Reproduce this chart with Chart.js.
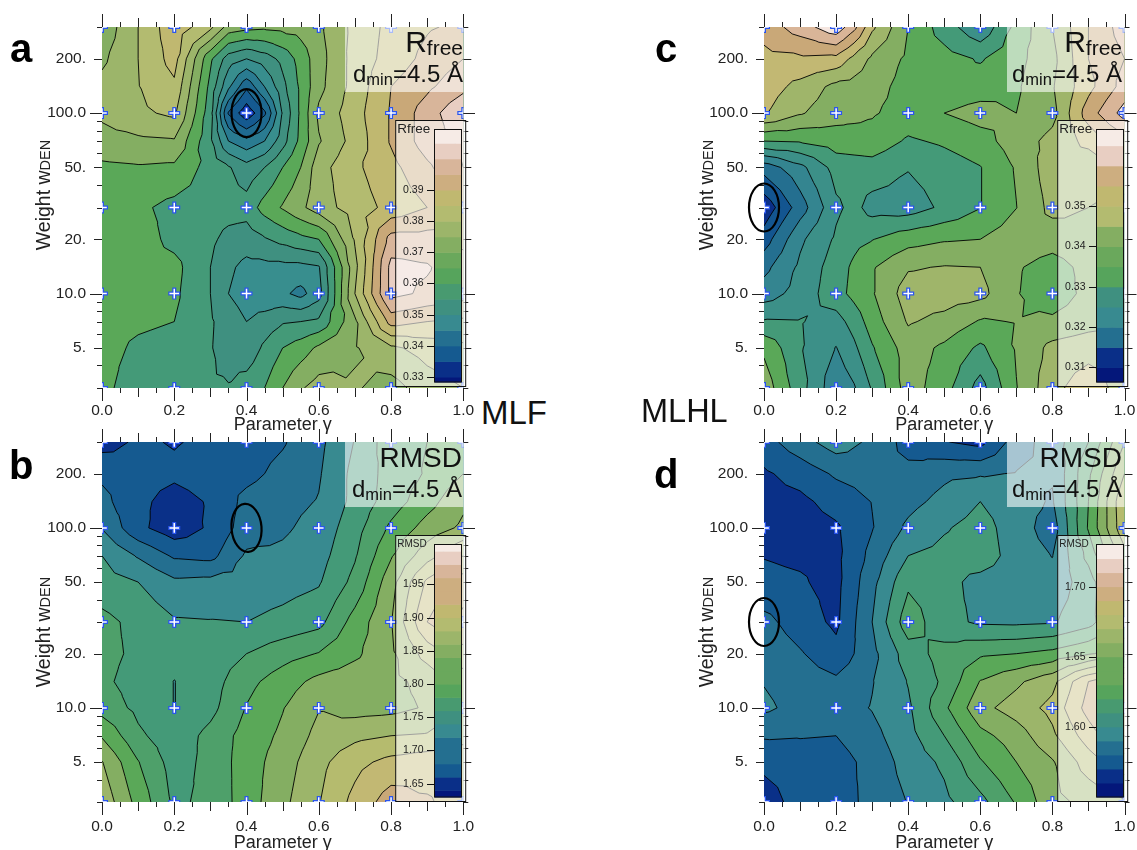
<!DOCTYPE html>
<html>
<head>
<meta charset="utf-8">
<title>Rfree and RMSD maps</title>
<script src="https://cdn.jsdelivr.net/npm/chart.js@4/dist/chart.umd.min.js"></script>
<style>
html, body { margin: 0; padding: 0; background: #fff; }
#page { position: relative; width: 1137px; height: 850px; overflow: hidden; font-family: "Liberation Sans", Arial, sans-serif; color: #111; }
canvas { position: absolute; }
.t { position: absolute; line-height: 1; white-space: nowrap; }
.letter { font-weight: bold; font-size: 40px; color: #000; }
.method { font-size: 33px; }
.right { text-align: right; width: 200px; }
.big { font-size: 30px; }
.big span { font-size: 21px; position: relative; top: 2.5px; }
.rmsd { font-size: 28px; }
.dmin { font-size: 24px; }
.dmin span { font-size: 16.5px; position: relative; top: 3px; }
.ylab { font-size: 19.5px; color: #222; transform: translate(-50%, -50%) rotate(-90deg); }
.ylab span { font-size: 14.5px; }
</style>
</head>
<body>
<div id="page">
<canvas id="pa" width="475" height="436" style="left:0;top:0"></canvas>
<canvas id="pb" width="475" height="439" style="left:0;top:415px"></canvas>
<canvas id="pc" width="475" height="436" style="left:662px;top:0"></canvas>
<canvas id="pd" width="475" height="439" style="left:662px;top:415px"></canvas>

<div class="t letter" style="left:10px;top:28px">a</div>
<div class="t letter" style="left:9px;top:445px">b</div>
<div class="t letter" style="left:655px;top:28px">c</div>
<div class="t letter" style="left:654px;top:454px">d</div>
<div class="t method" style="left:481px;top:396px">MLF</div>
<div class="t method" style="left:641px;top:395px;font-size:32.5px">MLHL</div>

<div class="t right big" style="left:263px;top:27px">R<span>free</span></div>
<div class="t right dmin" style="left:263px;top:62px">d<span>min</span>=4.5 Å</div>
<div class="t right big" style="left:922px;top:27px">R<span>free</span></div>
<div class="t right dmin" style="left:922px;top:62px">d<span>min</span>=4.5 Å</div>
<div class="t right rmsd" style="left:262px;top:444px">RMSD</div>
<div class="t right dmin" style="left:262px;top:477px">d<span>min</span>=4.5 Å</div>
<div class="t right rmsd" style="left:922px;top:444px">RMSD</div>
<div class="t right dmin" style="left:922px;top:477px">d<span>min</span>=4.5 Å</div>

<div class="t ylab" style="left:44px;top:195px">Weight w<span>DEN</span></div>
<div class="t ylab" style="left:44px;top:632px">Weight w<span>DEN</span></div>
<div class="t ylab" style="left:707px;top:195px">Weight w<span>DEN</span></div>
<div class="t ylab" style="left:707px;top:632px">Weight w<span>DEN</span></div>
</div>

<script>
// rows of every map, top to bottom
var weights = [300, 200, 140, 100, 70, 50, 30, 20, 14, 10, 7, 5, 3];

var gammaA = [0, 0.1, 0.2, 0.3, 0.35, 0.4, 0.45, 0.5, 0.55, 0.6, 0.7, 0.8, 0.9, 1];
var gammaB = [0, 0.1, 0.2, 0.3, 0.4, 0.5, 0.6, 0.7, 0.8, 0.9, 1];
var gammaC = [0, 0.1, 0.2, 0.25, 0.3, 0.4, 0.5, 0.6, 0.7, 0.8, 0.9, 1];
var gammaD = [0, 0.1, 0.2, 0.3, 0.4, 0.5, 0.6, 0.7, 0.8, 0.9, 1];

var rfreeMlf = [
	[0.3715, 0.3800, 0.3885, 0.3813, 0.3730, 0.3715, 0.3710, 0.3715, 0.3720, 0.3740, 0.3815, 0.3865, 0.3895, 0.3910],
	[0.3740, 0.3800, 0.3870, 0.3660, 0.3575, 0.3550, 0.3575, 0.3615, 0.3670, 0.3730, 0.3820, 0.3870, 0.3915, 0.3950],
	[0.3765, 0.3798, 0.3840, 0.3635, 0.3510, 0.3410, 0.3500, 0.3585, 0.3660, 0.3735, 0.3820, 0.3900, 0.3940, 0.3985],
	[0.3760, 0.3790, 0.3810, 0.3620, 0.3395, 0.3315, 0.3390, 0.3555, 0.3660, 0.3760, 0.3830, 0.3905, 0.3975, 0.4045],
	[0.3730, 0.3740, 0.3745, 0.3610, 0.3500, 0.3465, 0.3500, 0.3580, 0.3665, 0.3745, 0.3820, 0.3905, 0.3975, 0.4010],
	[0.3690, 0.3695, 0.3690, 0.3630, 0.3605, 0.3570, 0.3600, 0.3650, 0.3700, 0.3780, 0.3840, 0.3885, 0.3940, 0.4000],
	[0.3675, 0.3660, 0.3635, 0.3625, 0.3620, 0.3620, 0.3670, 0.3705, 0.3740, 0.3775, 0.3825, 0.3865, 0.3900, 0.3945],
	[0.3675, 0.3675, 0.3635, 0.3610, 0.3585, 0.3575, 0.3595, 0.3615, 0.3635, 0.3650, 0.3805, 0.3970, 0.3970, 0.3940],
	[0.3675, 0.3670, 0.3665, 0.3600, 0.3560, 0.3535, 0.3535, 0.3535, 0.3535, 0.3545, 0.3785, 0.4015, 0.4005, 0.3965],
	[0.3675, 0.3665, 0.3660, 0.3600, 0.3550, 0.3525, 0.3515, 0.3510, 0.3485, 0.3530, 0.3800, 0.4015, 0.3990, 0.3970],
	[0.3670, 0.3660, 0.3650, 0.3605, 0.3580, 0.3550, 0.3570, 0.3595, 0.3600, 0.3610, 0.3740, 0.3920, 0.3900, 0.3890],
	[0.3670, 0.3640, 0.3630, 0.3603, 0.3580, 0.3565, 0.3610, 0.3650, 0.3675, 0.3710, 0.3745, 0.3790, 0.3820, 0.3840],
	[0.3665, 0.3620, 0.3615, 0.3605, 0.3603, 0.3625, 0.3650, 0.3700, 0.3745, 0.3770, 0.3755, 0.3730, 0.3775, 0.3800]
];

var rmsdMlf = [
	[1.652, 1.663, 1.6586, 1.664, 1.670, 1.678, 1.695, 1.721, 1.752, 1.760, 1.766],
	[1.676, 1.668, 1.664, 1.670, 1.674, 1.686, 1.698, 1.726, 1.748, 1.762, 1.780],
	[1.686, 1.665, 1.652, 1.662, 1.686, 1.694, 1.701, 1.726, 1.750, 1.772, 1.796],
	[1.699, 1.665, 1.648, 1.663, 1.690, 1.697, 1.707, 1.732, 1.764, 1.788, 1.804],
	[1.720, 1.698, 1.677, 1.674, 1.703, 1.704, 1.712, 1.738, 1.778, 1.812, 1.840],
	[1.728, 1.720, 1.704, 1.706, 1.708, 1.712, 1.718, 1.746, 1.792, 1.844, 1.870],
	[1.746, 1.734, 1.722, 1.721, 1.720, 1.726, 1.734, 1.768, 1.799, 1.860, 1.886],
	[1.746, 1.736, 1.726, 1.728, 1.740, 1.752, 1.761, 1.776, 1.796, 1.828, 1.850],
	[1.744, 1.732, 1.7196, 1.731, 1.754, 1.770, 1.786, 1.792, 1.795, 1.806, 1.832],
	[1.752, 1.735, 1.7196, 1.734, 1.761, 1.779, 1.799, 1.792, 1.794, 1.802, 1.826],
	[1.778, 1.744, 1.728, 1.746, 1.768, 1.784, 1.806, 1.815, 1.820, 1.822, 1.834],
	[1.801, 1.761, 1.731, 1.746, 1.770, 1.790, 1.814, 1.834, 1.846, 1.852, 1.852],
	[1.814, 1.773, 1.736, 1.745, 1.770, 1.795, 1.819, 1.846, 1.870, 1.862, 1.852]
];

var rfreeMlhl = [
	[0.3570, 0.3625, 0.3685, 0.3615, 0.3510, 0.3400, 0.3325, 0.3260, 0.3365, 0.3450, 0.3550, 0.3625],
	[0.3535, 0.3540, 0.3535, 0.3485, 0.3440, 0.3390, 0.3370, 0.3345, 0.3385, 0.3435, 0.3550, 0.3600],
	[0.3525, 0.3485, 0.3435, 0.3430, 0.3420, 0.3380, 0.3365, 0.3375, 0.3393, 0.3445, 0.3535, 0.3620],
	[0.3505, 0.3455, 0.3420, 0.3413, 0.3405, 0.3380, 0.3400, 0.3420, 0.3400, 0.3435, 0.3575, 0.3670],
	[0.3350, 0.3355, 0.3375, 0.3378, 0.3380, 0.3343, 0.3358, 0.3380, 0.3425, 0.3465, 0.3515, 0.3580],
	[0.3170, 0.3235, 0.3320, 0.3325, 0.3330, 0.3303, 0.3325, 0.3348, 0.3405, 0.3480, 0.3465, 0.3500],
	[0.3065, 0.3175, 0.3290, 0.3315, 0.3280, 0.3275, 0.3310, 0.3348, 0.3399, 0.3465, 0.3450, 0.3425],
	[0.3125, 0.3240, 0.3308, 0.3335, 0.3348, 0.3380, 0.3395, 0.3400, 0.3430, 0.3420, 0.3435, 0.3430],
	[0.3185, 0.3260, 0.3325, 0.3360, 0.3395, 0.3445, 0.3453, 0.3450, 0.3405, 0.3380, 0.3415, 0.3425],
	[0.3225, 0.3270, 0.3330, 0.3365, 0.3395, 0.3475, 0.3475, 0.3465, 0.3403, 0.3370, 0.3415, 0.3430],
	[0.3305, 0.3303, 0.3280, 0.3320, 0.3375, 0.3455, 0.3435, 0.3395, 0.3402, 0.3410, 0.3430, 0.3445],
	[0.3390, 0.3305, 0.3248, 0.3290, 0.3345, 0.3425, 0.3390, 0.3340, 0.3405, 0.3465, 0.3480, 0.3485],
	[0.3430, 0.3320, 0.3215, 0.3245, 0.3305, 0.3425, 0.3370, 0.3280, 0.3398, 0.3485, 0.3530, 0.3475]
];

var rmsdMlhl = [
	[1.576, 1.586, 1.595, 1.588, 1.576, 1.5705, 1.567, 1.585, 1.595, 1.610, 1.640],
	[1.5685, 1.574, 1.5815, 1.584, 1.583, 1.588, 1.589, 1.5905, 1.591, 1.618, 1.650],
	[1.566, 1.5675, 1.574, 1.5803, 1.587, 1.593, 1.600, 1.594, 1.589, 1.620, 1.659],
	[1.565, 1.565, 1.5685, 1.5795, 1.592, 1.599, 1.604, 1.595, 1.585, 1.621, 1.658],
	[1.5697, 1.5685, 1.5675, 1.583, 1.600, 1.603, 1.605, 1.596, 1.5897, 1.613, 1.646],
	[1.572, 1.571, 1.567, 1.587, 1.608, 1.603, 1.597, 1.595, 1.594, 1.605, 1.630],
	[1.583, 1.575, 1.568, 1.590, 1.616, 1.603, 1.5985, 1.598, 1.599, 1.606, 1.625],
	[1.587, 1.581, 1.573, 1.587, 1.605, 1.614, 1.6185, 1.620, 1.623, 1.629, 1.635],
	[1.5895, 1.585, 1.582, 1.5895, 1.6005, 1.612, 1.6305, 1.638, 1.647, 1.670, 1.685],
	[1.592, 1.5865, 1.586, 1.5905, 1.5985, 1.618, 1.637, 1.6445, 1.653, 1.674, 1.691],
	[1.581, 1.5805, 1.580, 1.587, 1.5965, 1.610, 1.627, 1.635, 1.648, 1.665, 1.680],
	[1.573, 1.576, 1.5755, 1.5835, 1.594, 1.602, 1.619, 1.630, 1.639, 1.655, 1.665],
	[1.564, 1.575, 1.576, 1.5825, 1.5905, 1.5975, 1.607, 1.621, 1.637, 1.643, 1.649]
];

// contour levels
var levelsRfreeMlf = [0.33, 0.335, 0.34, 0.345, 0.35, 0.355, 0.36, 0.365, 0.37, 0.375, 0.38, 0.385, 0.39, 0.395, 0.4, 0.405];
var levelsRfreeMlhl = [0.31, 0.315, 0.32, 0.325, 0.33, 0.335, 0.34, 0.345, 0.35, 0.355, 0.36, 0.365];
var levelsRmsdMlf = [1.66, 1.68, 1.7, 1.72, 1.74, 1.76, 1.78, 1.8, 1.82, 1.84, 1.86, 1.88, 1.9, 1.92];
var levelsRmsdMlhl = [1.57, 1.58, 1.59, 1.6, 1.61, 1.62, 1.63, 1.64, 1.65, 1.66, 1.67, 1.68, 1.69, 1.7];

// band colours, lowest band first
var colorsA = ['#04177a', '#0a2f88', '#155a90', '#1f6a90', '#2a7b91', '#388e8e', '#3f9080', '#449a78', '#5aa858', '#84ae62', '#9cb56a', '#b3bb70', '#c0b870', '#c9a878', '#d8b59a', '#e8cec2', '#f6ebe6'];
var colorsC = ['#0a2f88', '#135590', '#246f90', '#348590', '#3c9088', '#449a78', '#5aa858', '#84ae62', '#9fb56a', '#c2b873', '#c9a878', '#d9b598', '#f5e6e0'];
var colorsBD = ['#0a3088', '#155a90', '#246f90', '#388a90', '#449a78', '#4ea06a', '#5aa858', '#84ae62', '#9cb56a', '#b5bb6e', '#c2b873', '#c9a878', '#d8b59a', '#e8cec2', '#f6ebe6'];

// the colour key beside each map
var keyRamp = ['#04177a', '#0a2f88', '#155a90', '#246f90', '#388a90', '#3f9080', '#489a70', '#56a45c', '#6aa85c', '#84ae62', '#9cb56a', '#b3bb70', '#c0b870', '#cdae80', '#d8b59a', '#e8cec2', '#f6ebe6'];
var keyBandsRmsdMlf = [1.63, 1.64, 1.66, 1.68, 1.7, 1.72, 1.74, 1.76, 1.78, 1.8, 1.82, 1.84, 1.86, 1.88, 1.9, 1.92, 1.94, 1.96, 1.98, 2.0, 2.01];
var keyBandsRmsdMlhl = [1.55, 1.56, 1.57, 1.58, 1.59, 1.6, 1.61, 1.62, 1.63, 1.64, 1.65, 1.66, 1.67, 1.68, 1.69, 1.7, 1.71, 1.72, 1.73];
var keyBandsRfreeMlf = [0.3284, 0.33, 0.335, 0.34, 0.345, 0.35, 0.355, 0.36, 0.365, 0.37, 0.375, 0.38, 0.385, 0.39, 0.395, 0.4, 0.405, 0.4094];
var keyBandsRfreeMlhl = [0.3064, 0.31, 0.315, 0.32, 0.325, 0.33, 0.335, 0.34, 0.345, 0.35, 0.355, 0.36, 0.365, 0.369];
var keyTicksRfreeMlf = [0.33, 0.34, 0.35, 0.36, 0.37, 0.38, 0.39];
var keyTicksRfreeMlhl = [0.31, 0.32, 0.33, 0.34, 0.35];
var keyTicksRmsdMlf = [1.65, 1.7, 1.75, 1.8, 1.85, 1.9, 1.95];
var keyTicksRmsdMlhl = [1.6, 1.65, 1.7];

// sampled grid points shown as crosses
var sampleGammas = [0, 0.2, 0.4, 0.6, 0.8, 1];
var sampleWeights = [3, 10, 30, 100, 300];

var yTickValues = [5, 10, 20, 50, 100, 200];
var yTickLabels = ['5.', '10.0', '20.', '50.', '100.0', '200.'];
var yMarks = [3, 4, 5, 6, 7, 8, 9, 10, 20, 30, 40, 50, 60, 70, 80, 90, 100, 200, 300];
var xMarks = [0, 0.05, 0.1, 0.15, 0.2, 0.25, 0.3, 0.35, 0.4, 0.45, 0.5, 0.55, 0.6, 0.65, 0.7, 0.75, 0.8, 0.85, 0.9, 0.95, 1];

// part of a triangle at or above a level, cut points carry v === level
function clipTriangle(tri, level) {
	var out = [];
	for (var i = 0; i < 3; i++) {
		var p = tri[i], q = tri[(i + 1) % 3];
		if (p.v >= level) out.push(p);
		if ((p.v >= level) !== (q.v >= level)) {
			var f = (level - p.v) / (q.v - p.v);
			out.push({ x: p.x + f * (q.x - p.x), y: p.y + f * (q.y - p.y), v: level });
		}
	}
	return out;
}

function buildTriangles(chart, p) {
	var xs = chart.scales.x, ys = chart.scales.y, tris = [];
	function node(r, c) {
		return { x: xs.getPixelForValue(p.gammas[c]), y: ys.getPixelForValue(weights[r]), v: p.grid[r][c] };
	}
	for (var r = 0; r < weights.length - 1; r++) {
		for (var c = 0; c < p.gammas.length - 1; c++) {
			var n = [node(r, c), node(r, c + 1), node(r + 1, c + 1), node(r + 1, c)];
			var mid = {
				x: (n[0].x + n[1].x) / 2,
				y: (n[0].y + n[3].y) / 2,
				v: (n[0].v + n[1].v + n[2].v + n[3].v) / 4
			};
			for (var k = 0; k < 4; k++) tris.push([n[k], n[(k + 1) % 4], mid]);
		}
	}
	return tris;
}

function contourPlugin(p) {
	return {
		id: 'contour',
		// the tick labels push the x scale inward, pin the plot box to the frame of the figure
		afterLayout: function(chart) {
			var a = chart.chartArea, xs = chart.scales.x;
			a.left = 102;
			a.right = p.plotRight;
			a.width = a.right - a.left;
			xs.left = a.left;
			xs.right = a.right;
			xs.width = a.width;
			xs.configure();
		},
		beforeDatasetsDraw: function(chart) {
			var ctx = chart.ctx, a = chart.chartArea, tris = buildTriangles(chart, p);
			// grid values often sit right on a level, nudge so no vertex ties
			var cuts = p.levels.map(function(l) { return l + 1e-7; });
			ctx.save();
			ctx.beginPath();
			ctx.rect(a.left, a.top, a.width, a.height);
			ctx.clip();
			ctx.fillStyle = p.colors[0];
			ctx.fillRect(a.left, a.top, a.width, a.height);
			cuts.forEach(function(level, i) {
				ctx.beginPath();
				tris.forEach(function(t) {
					var poly = clipTriangle(t, level);
					if (poly.length < 3) return;
					ctx.moveTo(poly[0].x, poly[0].y);
					for (var j = 1; j < poly.length; j++) ctx.lineTo(poly[j].x, poly[j].y);
					ctx.closePath();
				});
				ctx.fillStyle = p.colors[i + 1];
				ctx.fill();
			});
			ctx.strokeStyle = '#000';
			ctx.lineWidth = 0.9;
			cuts.forEach(function(level) {
				ctx.beginPath();
				tris.forEach(function(t) {
					var pts = clipTriangle(t, level).filter(function(q) { return q.v === level; });
					if (pts.length === 2) {
						ctx.moveTo(pts[0].x, pts[0].y);
						ctx.lineTo(pts[1].x, pts[1].y);
					}
				});
				ctx.stroke();
			});
			ctx.restore();
		}
	};
}

function overlayPlugin(p) {
	return {
		id: 'overlay',
		afterDatasetsDraw: function(chart) {
			var ctx = chart.ctx, a = chart.chartArea, xs = chart.scales.x, ys = chart.scales.y;
			ctx.save();

			// tick marks on all four sides
			ctx.strokeStyle = '#222';
			ctx.lineWidth = 1;
			ctx.beginPath();
			xMarks.forEach(function(g, i) {
				var len = i % 4 === 0 ? 13 : (i % 2 === 0 ? 9 : 5);
				var x = Math.round(xs.getPixelForValue(g)) + 0.5;
				ctx.moveTo(x, a.bottom); ctx.lineTo(x, a.bottom + len);
				ctx.moveTo(x, a.top); ctx.lineTo(x, a.top - len);
			});
			yMarks.forEach(function(w) {
				var len = (w === 10 || w === 100) ? 12 : ((w === 5 || w === 20 || w === 50 || w === 200) ? 8 : 5);
				var y = Math.round(ys.getPixelForValue(w)) + 0.5;
				ctx.moveTo(a.left - len, y); ctx.lineTo(a.left, y);
				ctx.moveTo(a.right, y); ctx.lineTo(a.right + len, y);
			});
			ctx.stroke();

			// ring around the best setting
			var ex = xs.getPixelForValue(p.ring[0]), ey = ys.getPixelForValue(p.ring[1]);
			ctx.strokeStyle = '#000';
			ctx.lineWidth = 2.2;
			ctx.beginPath();
			ctx.ellipse(ex, ey, 15, 24, p.ring[2], 0, Math.PI * 2);
			ctx.stroke();

			// pale box behind the title
			ctx.fillStyle = 'rgba(255,255,255,0.6)';
			ctx.fillRect(345, a.top, a.right - 345, 65);

			// colour key
			ctx.fillRect(395.7, 120.5, 70, 266);
			ctx.strokeStyle = '#111';
			ctx.lineWidth = 1;
			ctx.strokeRect(395.7, 120.5, 70, 266);
			var top = 129.5, bottom = 382, bl = 434.5, bw = 27;
			var lo = p.keyBands[0], hi = p.keyBands[p.keyBands.length - 1];
			function keyY(v) { return bottom - (v - lo) / (hi - lo) * (bottom - top); }
			var n = p.keyBands.length - 1;
			for (var i = 0; i < n; i++) {
				ctx.fillStyle = keyRamp[Math.round(i / (n - 1) * (keyRamp.length - 1))];
				var y1 = keyY(p.keyBands[i + 1]), y0 = keyY(p.keyBands[i]);
				ctx.fillRect(bl, y1, bw, y0 - y1 + 0.5);
			}
			ctx.strokeStyle = '#111';
			ctx.strokeRect(bl, top, bw, bottom - top);
			ctx.font = '10.5px "Liberation Sans"';
			ctx.fillStyle = '#222';
			ctx.textAlign = 'right';
			ctx.textBaseline = 'middle';
			ctx.beginPath();
			p.keyTicks.forEach(function(v) {
				var y = Math.round(keyY(v)) + 0.5;
				ctx.moveTo(bl - 7.5, y);
				ctx.lineTo(bl, y);
				ctx.fillText(v.toFixed(2), 423.5, y);
			});
			ctx.stroke();
			ctx.textAlign = 'left';
			ctx.font = p.keyFont + 'px "Liberation Sans"';
			ctx.fillText(p.keyTitle, 397.3, 129);
			ctx.restore();
		}
	};
}

function samplePoints() {
	var pts = [];
	sampleGammas.forEach(function(g) {
		sampleWeights.forEach(function(w) { pts.push({ x: g, y: w }); });
	});
	return pts;
}

function drawMap(id, p) {
	new Chart(document.getElementById(id).getContext('2d'), {
		type: 'scatter',
		data: {
			datasets: [{
				label: 'grid, halo',
				data: samplePoints(),
				pointStyle: 'cross',
				pointRadius: 6,
				pointBorderColor: '#2a55ee',
				pointBorderWidth: 4,
				clip: 0,
				order: 2
			}, {
				label: 'grid',
				data: samplePoints(),
				pointStyle: 'cross',
				pointRadius: 4.8,
				pointBorderColor: '#fff',
				pointBorderWidth: 1.5,
				clip: 0,
				order: 1
			}]
		},
		options: {
			responsive: false,
			animation: false,
			layout: { padding: { top: 27, right: 1, left: 0, bottom: 0 } },
			plugins: { legend: { display: false }, tooltip: { enabled: false } },
			scales: {
				x: {
					type: 'linear',
					min: 0,
					max: 1,
					grid: { display: false, drawTicks: false },
					border: { display: false },
					ticks: {
						stepSize: 0.2,
						padding: p.tickPad,
						maxRotation: 0,
						color: '#222',
						font: { family: 'Liberation Sans', size: 15.5 },
						callback: function(v) { return Number(v).toFixed(1); }
					},
					title: {
						display: true,
						text: 'Parameter γ',
						color: '#222',
						padding: 0,
						font: { family: 'Liberation Sans', size: 18 }
					},
					afterFit: function(s) { s.height = p.axisHeight; }
				},
				y: {
					type: 'logarithmic',
					min: 3,
					max: 300,
					grid: { display: false, drawTicks: false },
					border: { display: false },
					afterBuildTicks: function(s) {
						s.ticks = yTickValues.map(function(v) { return { value: v }; });
					},
					ticks: {
						padding: 16,
						autoSkip: false,
						color: '#222',
						font: { family: 'Liberation Sans', size: 15.5 },
						callback: function(v) { return yTickLabels[yTickValues.indexOf(Number(v))]; }
					},
					afterFit: function(s) { s.width = 102; }
				}
			}
		},
		plugins: [contourPlugin(p), overlayPlugin(p)]
	});
}

drawMap('pa', {
	gammas: gammaA, grid: rfreeMlf, levels: levelsRfreeMlf, colors: colorsA, tickPad: 13, axisHeight: 48, plotRight: 463.3,
	ring: [0.4, 100, 0], keyBands: keyBandsRfreeMlf, keyTicks: keyTicksRfreeMlf, keyTitle: 'Rfree', keyFont: 13.5
});
drawMap('pb', {
	gammas: gammaB, grid: rmsdMlf, levels: levelsRmsdMlf, colors: colorsBD, tickPad: 15, axisHeight: 52, plotRight: 463.3,
	ring: [0.4, 100, -0.08], keyBands: keyBandsRmsdMlf, keyTicks: keyTicksRmsdMlf, keyTitle: 'RMSD', keyFont: 10
});
drawMap('pc', {
	gammas: gammaC, grid: rfreeMlhl, levels: levelsRfreeMlhl, colors: colorsC, tickPad: 13, axisHeight: 48, plotRight: 462.5,
	ring: [0, 30, 0], keyBands: keyBandsRfreeMlhl, keyTicks: keyTicksRfreeMlhl, keyTitle: 'Rfree', keyFont: 13.5
});
drawMap('pd', {
	gammas: gammaD, grid: rmsdMlhl, levels: levelsRmsdMlhl, colors: colorsBD, tickPad: 15, axisHeight: 52, plotRight: 462.5,
	ring: [0, 30, 0], keyBands: keyBandsRmsdMlhl, keyTicks: keyTicksRmsdMlhl, keyTitle: 'RMSD', keyFont: 10
});
</script>
</body>
</html>
